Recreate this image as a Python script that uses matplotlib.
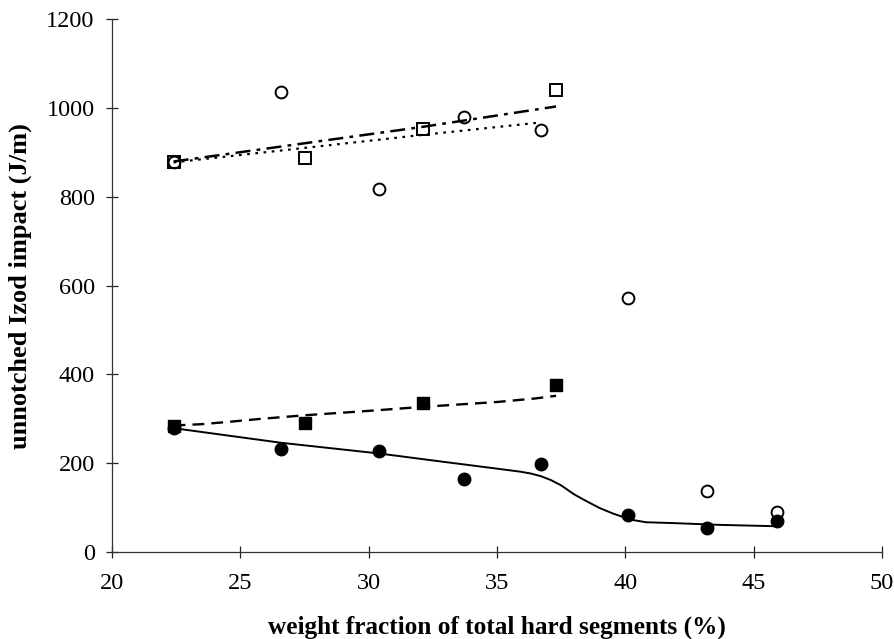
"""Unnotched Izod impact versus hard segment weight fraction."""
import numpy as np
import matplotlib.pyplot as plt

plt.rcParams['font.family'] = ['Liberation Serif', 'DejaVu Serif']

# measured points
xOpenSquare = [22.4, 27.5, 32.1, 37.3]
yOpenSquare = [878, 888, 953, 1040]
xOpenCircle = [22.4, 26.6, 30.4, 33.7, 36.7, 40.1, 43.2, 45.9]
yOpenCircle = [878, 1036, 818, 980, 950, 573, 137, 90]
xFilledSquare = [22.4, 27.5, 32.1, 37.3]
yFilledSquare = [283, 290, 335, 377]
xFilledCircle = [22.4, 26.6, 30.4, 33.7, 36.7, 40.1, 43.2, 45.9]
yFilledCircle = [280, 231, 227, 164, 198, 83, 54, 70]

# fitted curves
xFitOpenSquare = [22.4, 32.1, 37.3]
yFitOpenSquare = [880, 958, 1004]
xFitOpenCircle = [22.4, 32.1, 36.7]
yFitOpenCircle = [878, 940, 968]
xFitFilledSquare = [22.4, 23.5, 24.5, 25.8, 27.5, 30.0, 32.1, 35.0, 36.5, 37.3]
yFitFilledSquare = [285, 288, 293, 300, 308, 318, 327, 338, 346, 352]
xFitFilledCircle = [22.4, 26.6, 30.4, 32.8, 34.7, 35.9, 36.3, 36.7, 37.1, 37.5,
                    38.0, 38.5, 39.0, 39.5, 39.9, 40.3, 40.8, 41.9, 43.7, 45.9]
yFitFilledCircle = [279, 246, 222, 204, 190, 181, 177, 171, 162, 150,
                    130, 114, 99, 87, 79, 72, 67, 65, 61, 58]

xTicks = [20, 25, 30, 35, 40, 45, 50]
yTicks = [0, 200, 400, 600, 800, 1000, 1200]

fig = plt.figure(figsize=(8.94, 6.39), dpi=100)
ax = fig.add_axes([0.1253, 0.1362, 0.8613, 0.8333])

ax.plot(xFitOpenSquare, yFitOpenSquare, color='black', lw=1.8,
        dashes=(6, 2.5, 1.5, 2.5))
ax.plot(xFitOpenCircle, yFitOpenCircle, color='black', lw=1.6,
        dashes=(1.2, 2.5))
ax.plot(xFitFilledSquare, yFitFilledSquare, color='black', lw=1.7,
        dashes=(5, 3))
ax.plot(xFitFilledCircle, yFitFilledCircle, color='black', lw=1.4)

ax.plot(xOpenCircle, yOpenCircle, 'o', ms=8.5, mfc='none', mec='black', mew=1.4)
ax.plot(xOpenSquare, yOpenSquare, 's', ms=8.5, mfc='none', mec='black', mew=1.4)
ax.plot(xFilledCircle, yFilledCircle, 'o', ms=9, color='black')
ax.plot(xFilledSquare, yFilledSquare, 's', ms=8.5, color='black')

ax.set_xlim(20, 50)
ax.set_ylim(0, 1200)
ax.set_xticks(xTicks)
ax.set_yticks(yTicks)
ax.tick_params(direction='inout', length=9, width=0.9, labelsize=17.5,
               colors='#222222', labelcolor='black')
ax.tick_params(axis='x', pad=11)
ax.tick_params(axis='y', pad=8)
for side in ['top', 'right']:
    ax.spines[side].set_visible(False)
for side in ['left', 'bottom']:
    ax.spines[side].set_color('#333333')
    ax.spines[side].set_linewidth(0.9)

ax.set_xlabel('weight fraction of total hard segments (%)', fontsize=18.2,
              fontweight='bold', labelpad=15)
ax.set_ylabel('unnotched Izod impact (J/m)', fontsize=19,
              fontweight='bold', labelpad=10)

plt.savefig('out.png', dpi=100)
